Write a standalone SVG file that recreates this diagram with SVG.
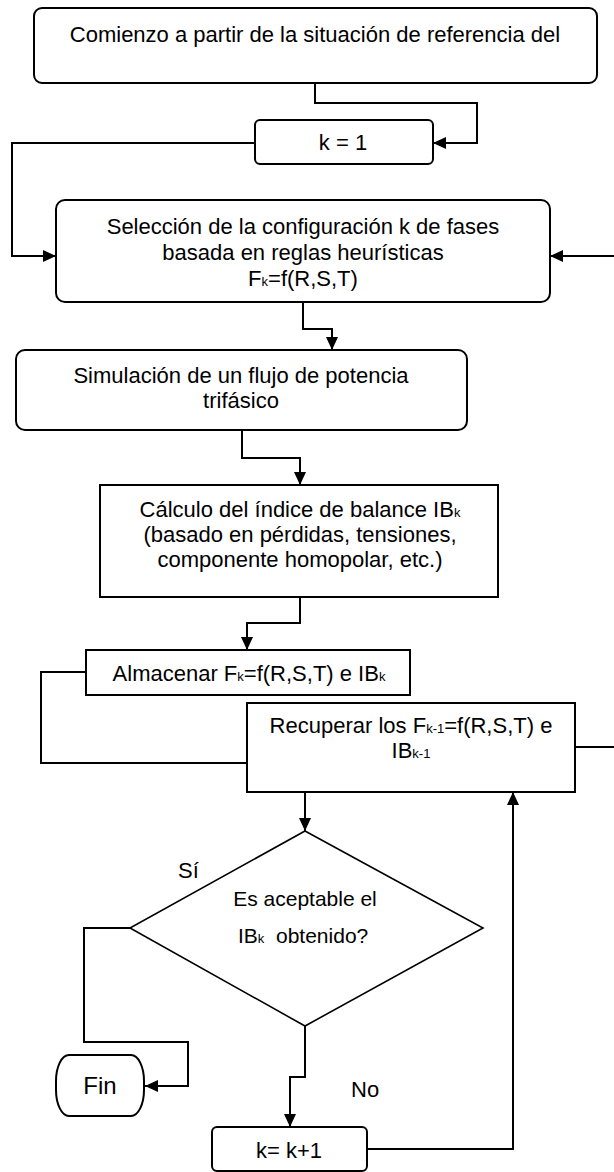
<svg xmlns="http://www.w3.org/2000/svg" width="614" height="1172" viewBox="0 0 614 1172">
<style>
  .box { fill: #ffffff; stroke: #000000; stroke-width: 2; }
  .dia { fill: #ffffff; stroke: #000000; stroke-width: 1.6; }
  .t { font-family: "Liberation Sans", Arial, sans-serif; font-size: 22px; fill: #000000; text-anchor: middle; }
  .ts { font-family: "Liberation Sans", Arial, sans-serif; font-size: 22px; fill: #000000; }
  .sub { font-size: 13px; fill: #000000; }
  .c { fill: none; stroke: #000000; stroke-width: 2; }
</style>
<defs>
  <marker id="ah" markerWidth="13" markerHeight="12" refX="13" refY="6" orient="auto" markerUnits="userSpaceOnUse">
    <path d="M0,0 L13,6 L0,12 z" fill="#000000"/>
  </marker>
</defs>
<rect width="614" height="1172" fill="#ffffff"/>

<g id="connectors">
  <path class="c" d="M315,83 V103 H477 V143 H433" marker-end="url(#ah)"/>
  <path class="c" d="M255,143 H12 V256 H56" marker-end="url(#ah)"/>
  <path class="c" d="M575,747 H617 V256 H550" marker-end="url(#ah)"/>
  <path class="c" d="M303,302 V329 H332 V350" marker-end="url(#ah)"/>
  <path class="c" d="M242,430 V458 H300 V485" marker-end="url(#ah)"/>
  <path class="c" d="M300,597 V623 H247 V650" marker-end="url(#ah)"/>
  <path class="c" d="M86,672 H41 V763 H247"/>
  <path class="c" d="M305,792 V831" marker-end="url(#ah)"/>
  <path class="c" d="M130,928 H84 V1042 H188 V1086 H145" marker-end="url(#ah)"/>
  <path class="c" d="M305,1026 V1077 H290 V1127" marker-end="url(#ah)"/>
  <path class="c" d="M367,1149 H513 V792" marker-end="url(#ah)"/>
</g>

<g id="start">
  <rect class="box" x="34" y="8" width="563" height="75" rx="8"/>
  <text class="t" x="315" y="42">Comienzo a partir de la situación de referencia del</text>
</g>

<g id="k1">
  <rect class="box" x="255" y="120" width="178" height="44" rx="5"/>
  <text class="t" x="343" y="150">k = 1</text>
</g>

<g id="seleccion">
  <rect class="box" x="56" y="200" width="494" height="102" rx="9"/>
  <text class="t" x="303" y="234">Selección de la configuración k de fases</text>
  <text class="t" x="303" y="260">basada en reglas heurísticas</text>
  <text class="t" x="303" y="286">F<tspan class="sub">k</tspan>=f(R,S,T)</text>
</g>

<g id="simulacion">
  <rect class="box" x="16" y="350" width="451" height="80" rx="9"/>
  <text class="t" x="241" y="383">Simulación de un flujo de potencia</text>
  <text class="t" x="241" y="408">trifásico</text>
</g>

<g id="calculo">
  <rect class="box" x="100" y="485" width="398" height="112"/>
  <text class="t" x="300" y="517">Cálculo del índice de balance IB<tspan class="sub">k</tspan></text>
  <text class="t" x="300" y="542">(basado en pérdidas, tensiones,</text>
  <text class="t" x="300" y="567">componente homopolar, etc.)</text>
</g>

<g id="almacenar">
  <rect class="box" x="86" y="650" width="324" height="45"/>
  <text class="t" x="249" y="681">Almacenar F<tspan class="sub">k</tspan>=f(R,S,T) e IB<tspan class="sub">k</tspan></text>
</g>

<g id="recuperar">
  <rect class="box" x="247" y="703" width="328" height="89"/>
  <text class="t" x="411" y="733">Recuperar los F<tspan class="sub">k-1</tspan>=f(R,S,T) e</text>
  <text class="t" x="411" y="758">IB<tspan class="sub">k-1</tspan></text>
</g>

<g id="decision">
  <polygon class="dia" points="305,831 483,928 305,1026 130,928"/>
  <text class="t" x="305" y="906" style="font-size:21px">Es aceptable el</text>
  <text class="ts" x="238" y="943" style="font-size:21px">IB<tspan class="sub">k</tspan></text>
  <text class="ts" x="276" y="943" style="font-size:21px">obtenido?</text>
</g>

<g id="label-si">
  <text class="ts" x="178" y="878">Sí</text>
</g>

<g id="fin">
  <rect class="box" x="56" y="1055" width="88" height="61" rx="13" ry="26"/>
  <text class="t" x="100" y="1094" style="font-size:24px">Fin</text>
</g>

<g id="label-no">
  <text class="ts" x="351" y="1097">No</text>
</g>

<g id="kinc">
  <rect class="box" x="212" y="1127" width="155" height="44" rx="5"/>
  <text class="t" x="289" y="1158">k= k+1</text>
</g>
</svg>
